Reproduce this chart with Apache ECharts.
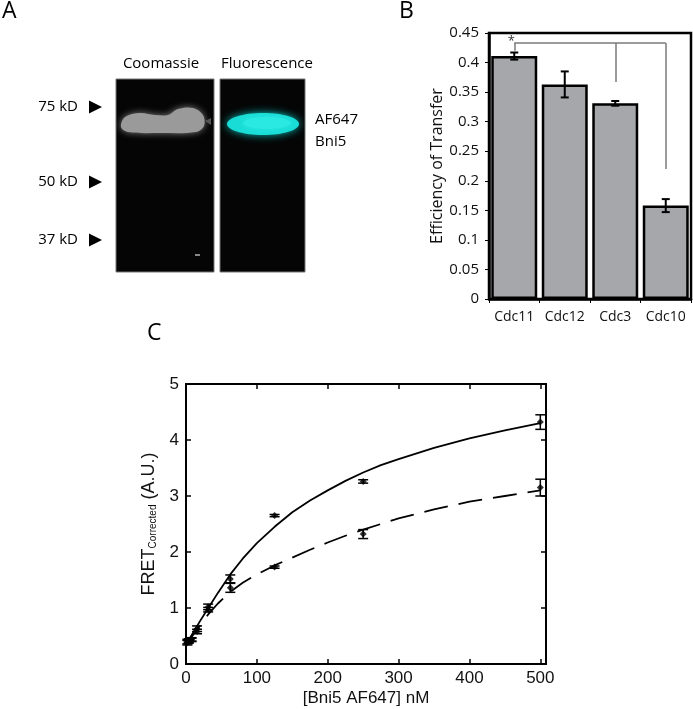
<!DOCTYPE html>
<html>
<head>
<meta charset="utf-8">
<script src="https://cdn.jsdelivr.net/npm/echarts@6/dist/echarts.min.js"></script>
<style>html,body{margin:0;padding:0;background:#fff;}#chart{width:693px;height:709px;}</style>
</head>
<body>
<div id="chart"></div>
<script>
// ---- Panel B data ----
var categories = ['Cdc11', 'Cdc12', 'Cdc3', 'Cdc10'];
var efficiency = [0.411, 0.363, 0.331, 0.158];
var efficiencyErr = [0.006, 0.022, 0.004, 0.011];
var bTicks = [0, 0.05, 0.1, 0.15, 0.2, 0.25, 0.3, 0.35, 0.4, 0.45];

// ---- Panel C data ----
var conc = [1.95, 3.9, 7.8, 15.6, 31.25, 62.5, 125, 250, 500];
var fretSolid = [0.40, 0.42, 0.44, 0.63, 1.02, 1.52, 2.65, 3.26, 4.32];
var fretSolidErr = [0.04, 0.03, 0.03, 0.05, 0.05, 0.07, 0.02, 0.03, 0.13];
var fretDashed = [0.38, 0.40, 0.43, 0.58, 0.97, 1.36, 1.73, 2.32, 3.15];
var fretDashedErr = [0.04, 0.03, 0.03, 0.04, 0.04, 0.08, 0.02, 0.08, 0.15];
var fitX = [0, 10, 20, 31, 45, 62.5, 80, 100, 125, 150, 175, 200, 225, 250, 275, 300, 350, 400, 450, 500];
var fitSolid = [0.35, 0.56, 0.77, 0.99, 1.27, 1.6, 1.88, 2.16, 2.45, 2.71, 2.92, 3.1, 3.27, 3.42, 3.55, 3.66, 3.86, 4.03, 4.17, 4.3];
var fitDashed = [0.35, 0.52, 0.69, 0.88, 1.08, 1.29, 1.45, 1.6, 1.76, 1.9, 2.04, 2.17, 2.29, 2.4, 2.5, 2.6, 2.76, 2.9, 3.0, 3.1];
var cXTicks = [0, 100, 200, 300, 400, 500];
var cYTicks = [0, 1, 2, 3, 4, 5];

// ---- Panel A labels ----
var gelLanes = ['Coomassie', 'Fluorescence'];
var markers = ['75 kD', '50 kD', '37 kD'];

function zip(xs, ys) { return xs.map(function (x, i) { return [x, ys[i]]; }); }
function zip3(xs, ys, es) { return xs.map(function (x, i) { return [x, ys[i], es[i]]; }); }

var chart = echarts.init(document.getElementById('chart'));

function errRender(capHalf, lw) {
  return function (params, api) {
    var x = api.value(0), y = api.value(1), e = api.value(2);
    var top = api.coord([x, y + e]);
    var bot = api.coord([x, y - e]);
    var st = { stroke: '#000', lineWidth: lw };
    return {
      type: 'group',
      children: [
        { type: 'line', shape: { x1: top[0], y1: top[1], x2: bot[0], y2: bot[1] }, style: st },
        { type: 'line', shape: { x1: top[0] - capHalf, y1: top[1], x2: top[0] + capHalf, y2: top[1] }, style: st },
        { type: 'line', shape: { x1: bot[0] - capHalf, y1: bot[1], x2: bot[0] + capHalf, y2: bot[1] }, style: st }
      ]
    };
  };
}

var fA = 'Open Sans';
var fC = 'Liberation Sans';

var graphics = [
  { type: 'text', left: 2, top: 0, style: { text: 'A', fontSize: 23, fontFamily: fA, fill: '#000' } },
  { type: 'text', left: 399, top: 0, style: { text: 'B', fontSize: 23, fontFamily: fA, fill: '#000' } },
  { type: 'text', left: 147, top: 322, style: { text: 'C', fontSize: 23, fontFamily: fA, fill: '#000' } },
  // lanes
  { type: 'rect', shape: { x: 116, y: 79, width: 98, height: 193 }, style: { fill: '#050505', stroke: '#777', lineWidth: 1 } },
  { type: 'rect', shape: { x: 220, y: 79, width: 85, height: 193 }, style: { fill: '#050505', stroke: '#777', lineWidth: 1 } },
  // coomassie band
  { type: 'polygon', shape: { smooth: 0.35, points: [[121, 127], [125, 117], [140, 113], [155, 115], [168, 115], [178, 109], [193, 108], [203, 115], [204, 126], [196, 132], [160, 133], [128, 132]] },
    style: { fill: '#9a9a9a', shadowBlur: 7, shadowColor: '#808080' } },
  { type: 'rect', shape: { x: 195, y: 254, width: 5, height: 2 }, style: { fill: '#888' } },
  { type: 'polygon', shape: { points: [[205, 121], [211, 118], [211, 125]] }, style: { fill: '#555' } },
  // fluorescence band
  { type: 'ellipse', shape: { cx: 263, cy: 124, rx: 36, ry: 11 }, style: { fill: '#1adcd6', shadowBlur: 9, shadowColor: '#0bb5b0' } },
  { type: 'ellipse', shape: { cx: 267, cy: 123, rx: 24, ry: 6 }, style: { fill: '#2ae8e2', shadowBlur: 6, shadowColor: '#2ae8e2' } },
  // lane labels
  { type: 'text', x: 161, y: 64, style: { text: gelLanes[0], fontSize: 15, fontFamily: fA, fill: '#000', textAlign: 'center', textVerticalAlign: 'middle' } },
  { type: 'text', x: 267, y: 64, style: { text: gelLanes[1], fontSize: 15, fontFamily: fA, fill: '#000', textAlign: 'center', textVerticalAlign: 'middle' } },
  { type: 'text', x: 315, y: 120, style: { text: 'AF647', fontSize: 15, fontFamily: fA, fill: '#000', textAlign: 'left', textVerticalAlign: 'middle' } },
  { type: 'text', x: 315, y: 142, style: { text: 'Bni5', fontSize: 15, fontFamily: fA, fill: '#000', textAlign: 'left', textVerticalAlign: 'middle' } }
];
var markerY = [107, 182, 240];
markers.forEach(function (m, i) {
  graphics.push({ type: 'text', x: 78, y: markerY[i], style: { text: m, fontSize: 15, fontFamily: fA, fill: '#000', textAlign: 'right', textVerticalAlign: 'middle' } });
  graphics.push({ type: 'polygon', shape: { points: [[89, markerY[i] - 6.5], [102, markerY[i]], [89, markerY[i] + 6.5]] }, style: { fill: '#000' } });
});

var option = {
  backgroundColor: '#fff',
  animation: false,
  graphic: graphics,
  grid: [
    { left: 489, top: 33, width: 202, height: 266, show: true, borderColor: '#000', borderWidth: 2.5, backgroundColor: 'transparent' },
    { left: 186, top: 384, width: 360, height: 280, show: true, borderColor: '#000', borderWidth: 2, backgroundColor: 'transparent' }
  ],
  xAxis: [
    { type: 'category', gridIndex: 0, data: categories,
      axisLine: { lineStyle: { color: '#000', width: 2.5 } },
      axisTick: { show: true, length: 4, lineStyle: { color: '#000' } },
      axisLabel: { color: '#111', fontSize: 14, fontFamily: fA, margin: 11, interval: 0 } },
    { type: 'value', gridIndex: 1, min: 0, max: 508, interval: 100,
      name: '[Bni5 AF647] nM', nameLocation: 'middle', nameGap: 26,
      nameTextStyle: { fontSize: 17, fontFamily: fC, color: '#111' },
      axisLine: { onZero: false, lineStyle: { color: '#000', width: 2 } },
      axisTick: { inside: true, length: 5, lineStyle: { color: '#000', width: 1.5 } },
      axisLabel: { color: '#111', fontSize: 17, fontFamily: fC, margin: 6,
        formatter: function (v) { return cXTicks.indexOf(v) >= 0 ? String(v) : ''; } },
      splitLine: { show: false } },
    { type: 'value', gridIndex: 1, position: 'top', min: 0, max: 508, interval: 100,
      axisLine: { onZero: false, lineStyle: { color: '#000', width: 2 } },
      axisTick: { inside: true, length: 5, lineStyle: { color: '#000', width: 1.5 } },
      axisLabel: { show: false }, splitLine: { show: false } }
  ],
  yAxis: [
    { type: 'value', gridIndex: 0, min: 0, max: 0.45, interval: 0.05,
      name: 'Efficiency of Transfer', nameLocation: 'middle', nameGap: 43,
      nameTextStyle: { fontSize: 16, fontFamily: fA, color: '#111' },
      axisLine: { show: true, lineStyle: { color: '#000', width: 2.5 } },
      axisTick: { show: true, length: 4, lineStyle: { color: '#000' } },
      axisLabel: { color: '#111', fontSize: 15, fontFamily: fA, margin: 10,
        formatter: function (v) { var t = bTicks.reduce(function (a, b) { return Math.abs(b - v) < Math.abs(a - v) ? b : a; }); return String(t); } },
      splitLine: { show: false } },
    { type: 'value', gridIndex: 1, min: 0, max: 5, interval: 1,
      name: '{m|FRET}{s|Corrected}{m| (A.U.)}', nameLocation: 'middle', nameGap: 22,
      nameTextStyle: { rich: {
        m: { fontSize: 18, fontFamily: fC, color: '#111' },
        s: { fontSize: 10, fontFamily: fC, color: '#111', verticalAlign: 'bottom', padding: [9, 0, 0, 0] } } },
      axisLine: { onZero: false, lineStyle: { color: '#000', width: 2 } },
      axisTick: { inside: true, length: 5, lineStyle: { color: '#000', width: 1.5 } },
      axisLabel: { color: '#111', fontSize: 17, fontFamily: fC, margin: 7 },
      splitLine: { show: false } },
    { type: 'value', gridIndex: 1, position: 'right', min: 0, max: 5, interval: 1,
      axisLine: { show: true, onZero: false, lineStyle: { color: '#000', width: 2 } },
      axisTick: { show: true, inside: true, length: 5, lineStyle: { color: '#000', width: 1.5 } },
      axisLabel: { show: false }, splitLine: { show: false } }
  ],
  series: [
    { type: 'bar', xAxisIndex: 0, yAxisIndex: 0, data: efficiency, barCategoryGap: '9%',
      itemStyle: { color: '#a5a7aa', borderColor: '#000', borderWidth: 2.5 },
      markLine: { silent: true, symbol: 'none', lineStyle: { color: '#7a7a7a', width: 1.5, type: 'solid' },
        label: { show: false },
        data: [
          [{ coord: [0, 0.433] }, { coord: [3, 0.433] }],
          [{ coord: [0, 0.433] }, { coord: [0, 0.42] }],
          [{ coord: [2, 0.433] }, { coord: [2, 0.367] }],
          [{ coord: [3, 0.433] }, { coord: [3, 0.22] }]
        ] },
      markPoint: { silent: true, symbol: 'circle', symbolSize: 0,
        label: { show: true, formatter: '*', color: '#333', fontSize: 13, fontFamily: fA, offset: [-3, 2] },
        data: [{ coord: [0, 0.44] }] } },
    { type: 'custom', xAxisIndex: 0, yAxisIndex: 0, renderItem: errRender(4, 2),
      data: zip3(categories.map(function (c, i) { return i; }), efficiency, efficiencyErr), z: 5 },
    // panel C fits
    { type: 'line', xAxisIndex: 1, yAxisIndex: 1, data: zip(fitX, fitSolid), smooth: false, symbol: 'none',
      lineStyle: { color: '#000', width: 1.8, join: 'round' } },
    { type: 'line', xAxisIndex: 1, yAxisIndex: 1, data: zip(fitX, fitDashed), smooth: false, symbol: 'none',
      lineStyle: { color: '#000', width: 1.8, type: [24, 11] } },
    // panel C points
    { type: 'custom', xAxisIndex: 1, yAxisIndex: 1, renderItem: errRender(5, 1.5), data: zip3(conc, fretSolid, fretSolidErr), z: 5 },
    { type: 'custom', xAxisIndex: 1, yAxisIndex: 1, renderItem: errRender(5, 1.5), data: zip3(conc, fretDashed, fretDashedErr), z: 5 },
    { type: 'scatter', xAxisIndex: 1, yAxisIndex: 1, data: zip(conc, fretSolid), symbol: 'diamond', symbolSize: 7,
      itemStyle: { color: '#000' }, z: 6 },
    { type: 'scatter', xAxisIndex: 1, yAxisIndex: 1, data: zip(conc, fretDashed), symbol: 'diamond', symbolSize: 7,
      itemStyle: { color: '#000' }, z: 6 }
  ]
};
chart.setOption(option);
</script>
</body>
</html>
